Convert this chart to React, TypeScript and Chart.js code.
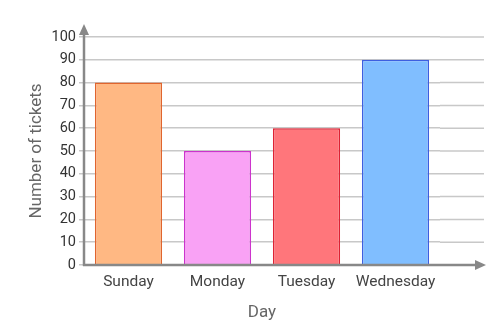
import React, { useEffect, useRef } from "react";
import { Chart, registerables } from "chart.js";

Chart.register(...registerables);

const days = ["Sunday", "Monday", "Tuesday", "Wednesday"];
const tickets = [80, 50, 60, 90];
const fillColors = ["#FFB883", "#F9A2F5", "#FF767B", "#80BEFF"];
const borderColors = ["#E0652E", "#CC33CC", "#DD2233", "#3D5FE0"];
const yTitle = "Number of tickets";
const xTitle = "Day";

const axisPlugin = {
  id: "axisArrows",
  beforeDatasetsDraw(chart: any) {
    const { ctx, chartArea, scales } = chart;
    const y = scales.y;
    ctx.save();
    ctx.strokeStyle = "#c8c8c8";
    ctx.lineWidth = 1.5;
    y.ticks.forEach((t: any) => {
      const py = y.getPixelForValue(t.value);
      ctx.beginPath();
      ctx.moveTo(chartArea.right, py);
      ctx.lineTo(chartArea.right + 44, py);
      ctx.stroke();
    });
    ctx.restore();
  },
  afterDatasetsDraw(chart: any) {
    const { ctx, chartArea, scales } = chart;
    const x0 = chartArea.left;
    const y0 = scales.y.getPixelForValue(0);
    ctx.save();
    ctx.strokeStyle = "#888888";
    ctx.fillStyle = "#888888";
    ctx.lineWidth = 2.5;
    ctx.beginPath();
    ctx.moveTo(x0, y0 + 1);
    ctx.lineTo(x0, chartArea.top - 2);
    ctx.stroke();
    ctx.beginPath();
    ctx.moveTo(x0, chartArea.top - 13);
    ctx.lineTo(x0 - 5, chartArea.top - 2);
    ctx.lineTo(x0 + 5, chartArea.top - 2);
    ctx.closePath();
    ctx.fill();
    const xr = chartArea.right + 35;
    ctx.beginPath();
    ctx.moveTo(x0 - 1, y0);
    ctx.lineTo(xr, y0);
    ctx.stroke();
    ctx.beginPath();
    ctx.moveTo(xr + 11, y0);
    ctx.lineTo(xr, y0 - 5);
    ctx.lineTo(xr, y0 + 5);
    ctx.closePath();
    ctx.fill();
    ctx.restore();
  },
};

export default function App() {
  const ref = useRef<HTMLCanvasElement>(null);
  useEffect(() => {
    if (!ref.current) return;
    const chart = new Chart(ref.current, {
      type: "bar",
      data: {
        labels: days,
        datasets: [
          {
            data: tickets,
            backgroundColor: fillColors,
            borderColor: borderColors,
            borderWidth: 1.5,
            categoryPercentage: 1,
            barPercentage: 0.755,
          },
        ],
      },
      options: {
        responsive: false,
        animation: false,
        layout: { padding: { left: 0, right: 60, top: 37, bottom: 0 } },
        plugins: { legend: { display: false }, tooltip: { enabled: false } },
        scales: {
          x: {
            afterFit: (s: any) => {
              s.height = 61;
            },
            grid: { display: false, drawTicks: false },
            border: { display: false },
            ticks: {
              color: "#444444",
              padding: 8,
              font: { family: "Roboto", size: 15.5 },
            },
            title: {
              display: true,
              text: xTitle,
              color: "#666666",
              font: { family: "Roboto", size: 17 },
              padding: { top: 0, bottom: 3 },
            },
          },
          y: {
            min: 0,
            max: 100,
            afterFit: (s: any) => {
              s.width = 84;
            },
            grid: { color: "#c8c8c8", lineWidth: 1.5, tickLength: 5 },
            border: { display: false },
            ticks: {
              stepSize: 10,
              color: "#333333",
              padding: 3,
              font: { family: "Roboto", size: 14.5 },
            },
            title: {
              display: true,
              text: yTitle,
              color: "#666666",
              font: { family: "Roboto", size: 17 },
              padding: { top: 26.5, bottom: 0 },
            },
          },
        },
      },
      plugins: [axisPlugin],
    });
    return () => chart.destroy();
  }, []);
  return (
    <div style={{ position: "absolute", left: 0, top: 0, width: 500, height: 326, background: "#fff" }}>
      <canvas ref={ref} width={500} height={326} />
    </div>
  );
}
